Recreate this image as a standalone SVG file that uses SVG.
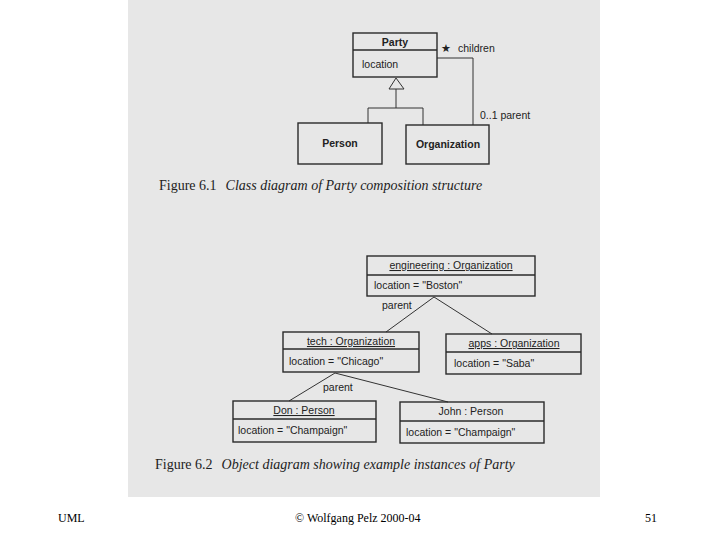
<svg xmlns="http://www.w3.org/2000/svg" width="720" height="540" viewBox="0 0 720 540">
<style>
.box{fill:none;stroke:#2a2a2a;stroke-width:1.4}
.ln{fill:none;stroke:#333;stroke-width:1}
.t{font-family:"Liberation Sans",Arial,sans-serif;font-size:10.5px;fill:#222}
.b{font-weight:bold}
.u{text-decoration:underline}
.cap{font-family:"Liberation Serif","Times New Roman",serif;font-size:14px;fill:#222}
.ft{font-family:"Liberation Serif","Times New Roman",serif;font-size:12px;fill:#000}
</style>
<rect x="0" y="0" width="720" height="540" fill="#fff"/>
<rect x="128" y="0" width="472" height="497" fill="#e7e7e7"/>

<g id="connectors">
<polygon points="396,78 389,89 404,89" fill="none" stroke="#333" stroke-width="1"/>
<path class="ln" d="M396,89 V108 M368,108 H423 M368,108 V123 M423,108 V125"/>
<path class="ln" d="M437,58 H473 V125" stroke-width="1.5"/>
<text class="t" x="441" y="52" font-size="14">★</text>
<text class="t" x="458" y="52">children</text>
<text class="t" x="480" y="119">0..1 parent</text>
<path class="ln" d="M434,297 L386,332 M434,297 L492,334"/>
<text class="t" x="382" y="309">parent</text>
<path class="ln" d="M335,373 L289,401 M335,373 L448,402"/>
<text class="t" x="323" y="391">parent</text>
</g>

<g id="party">
<rect class="box" x="353" y="33" width="84" height="44"/>
<line class="box" x1="353" y1="50" x2="437" y2="50"/>
<text class="t b" x="395" y="46" text-anchor="middle">Party</text>
<text class="t" x="362" y="68">location</text>
</g>
<g id="person">
<rect class="box" x="298" y="123" width="84" height="41"/>
<text class="t b" x="340" y="147" text-anchor="middle">Person</text>
</g>
<g id="organization">
<rect class="box" x="406" y="125" width="83" height="39"/>
<text class="t b" x="448" y="148" text-anchor="middle">Organization</text>
</g>

<text class="cap" x="159" y="190">Figure 6.1<tspan font-style="italic" dx="9">Class diagram of Party composition structure</tspan></text>

<g id="engineering">
<rect class="box" x="367" y="256" width="168" height="40"/>
<line class="box" x1="367" y1="275" x2="535" y2="275"/>
<text class="t u" x="451" y="269" text-anchor="middle">engineering : Organization</text>
<text class="t" x="374" y="289">location = "Boston"</text>
</g>
<g id="tech">
<rect class="box" x="283" y="332" width="136" height="40"/>
<line class="box" x1="283" y1="349" x2="419" y2="349"/>
<text class="t u" x="351" y="345" text-anchor="middle">tech : Organization</text>
<text class="t" x="289" y="365">location = "Chicago"</text>
</g>
<g id="apps">
<rect class="box" x="446" y="334" width="135" height="40"/>
<line class="box" x1="446" y1="352" x2="581" y2="352"/>
<text class="t u" x="514" y="347" text-anchor="middle">apps : Organization</text>
<text class="t" x="454" y="367">location = "Saba"</text>
</g>
<g id="don">
<rect class="box" x="233" y="401" width="143" height="41"/>
<line class="box" x1="233" y1="419" x2="376" y2="419"/>
<text class="t u" x="304" y="414" text-anchor="middle">Don : Person</text>
<text class="t" x="238" y="434">location = "Champaign"</text>
</g>
<g id="john">
<rect class="box" x="400" y="402" width="144" height="41"/>
<line class="box" x1="400" y1="421" x2="544" y2="421"/>
<text class="t" x="471" y="415" text-anchor="middle">John : Person</text>
<text class="t" x="406" y="436">location = "Champaign"</text>
</g>

<text class="cap" x="155" y="469">Figure 6.2<tspan font-style="italic" dx="9">Object diagram showing example instances of Party</tspan></text>

<text class="ft" x="58" y="522">UML</text>
<text class="ft" x="295" y="522">© Wolfgang Pelz 2000-04</text>
<text class="ft" x="645" y="522">51</text>
</svg>
